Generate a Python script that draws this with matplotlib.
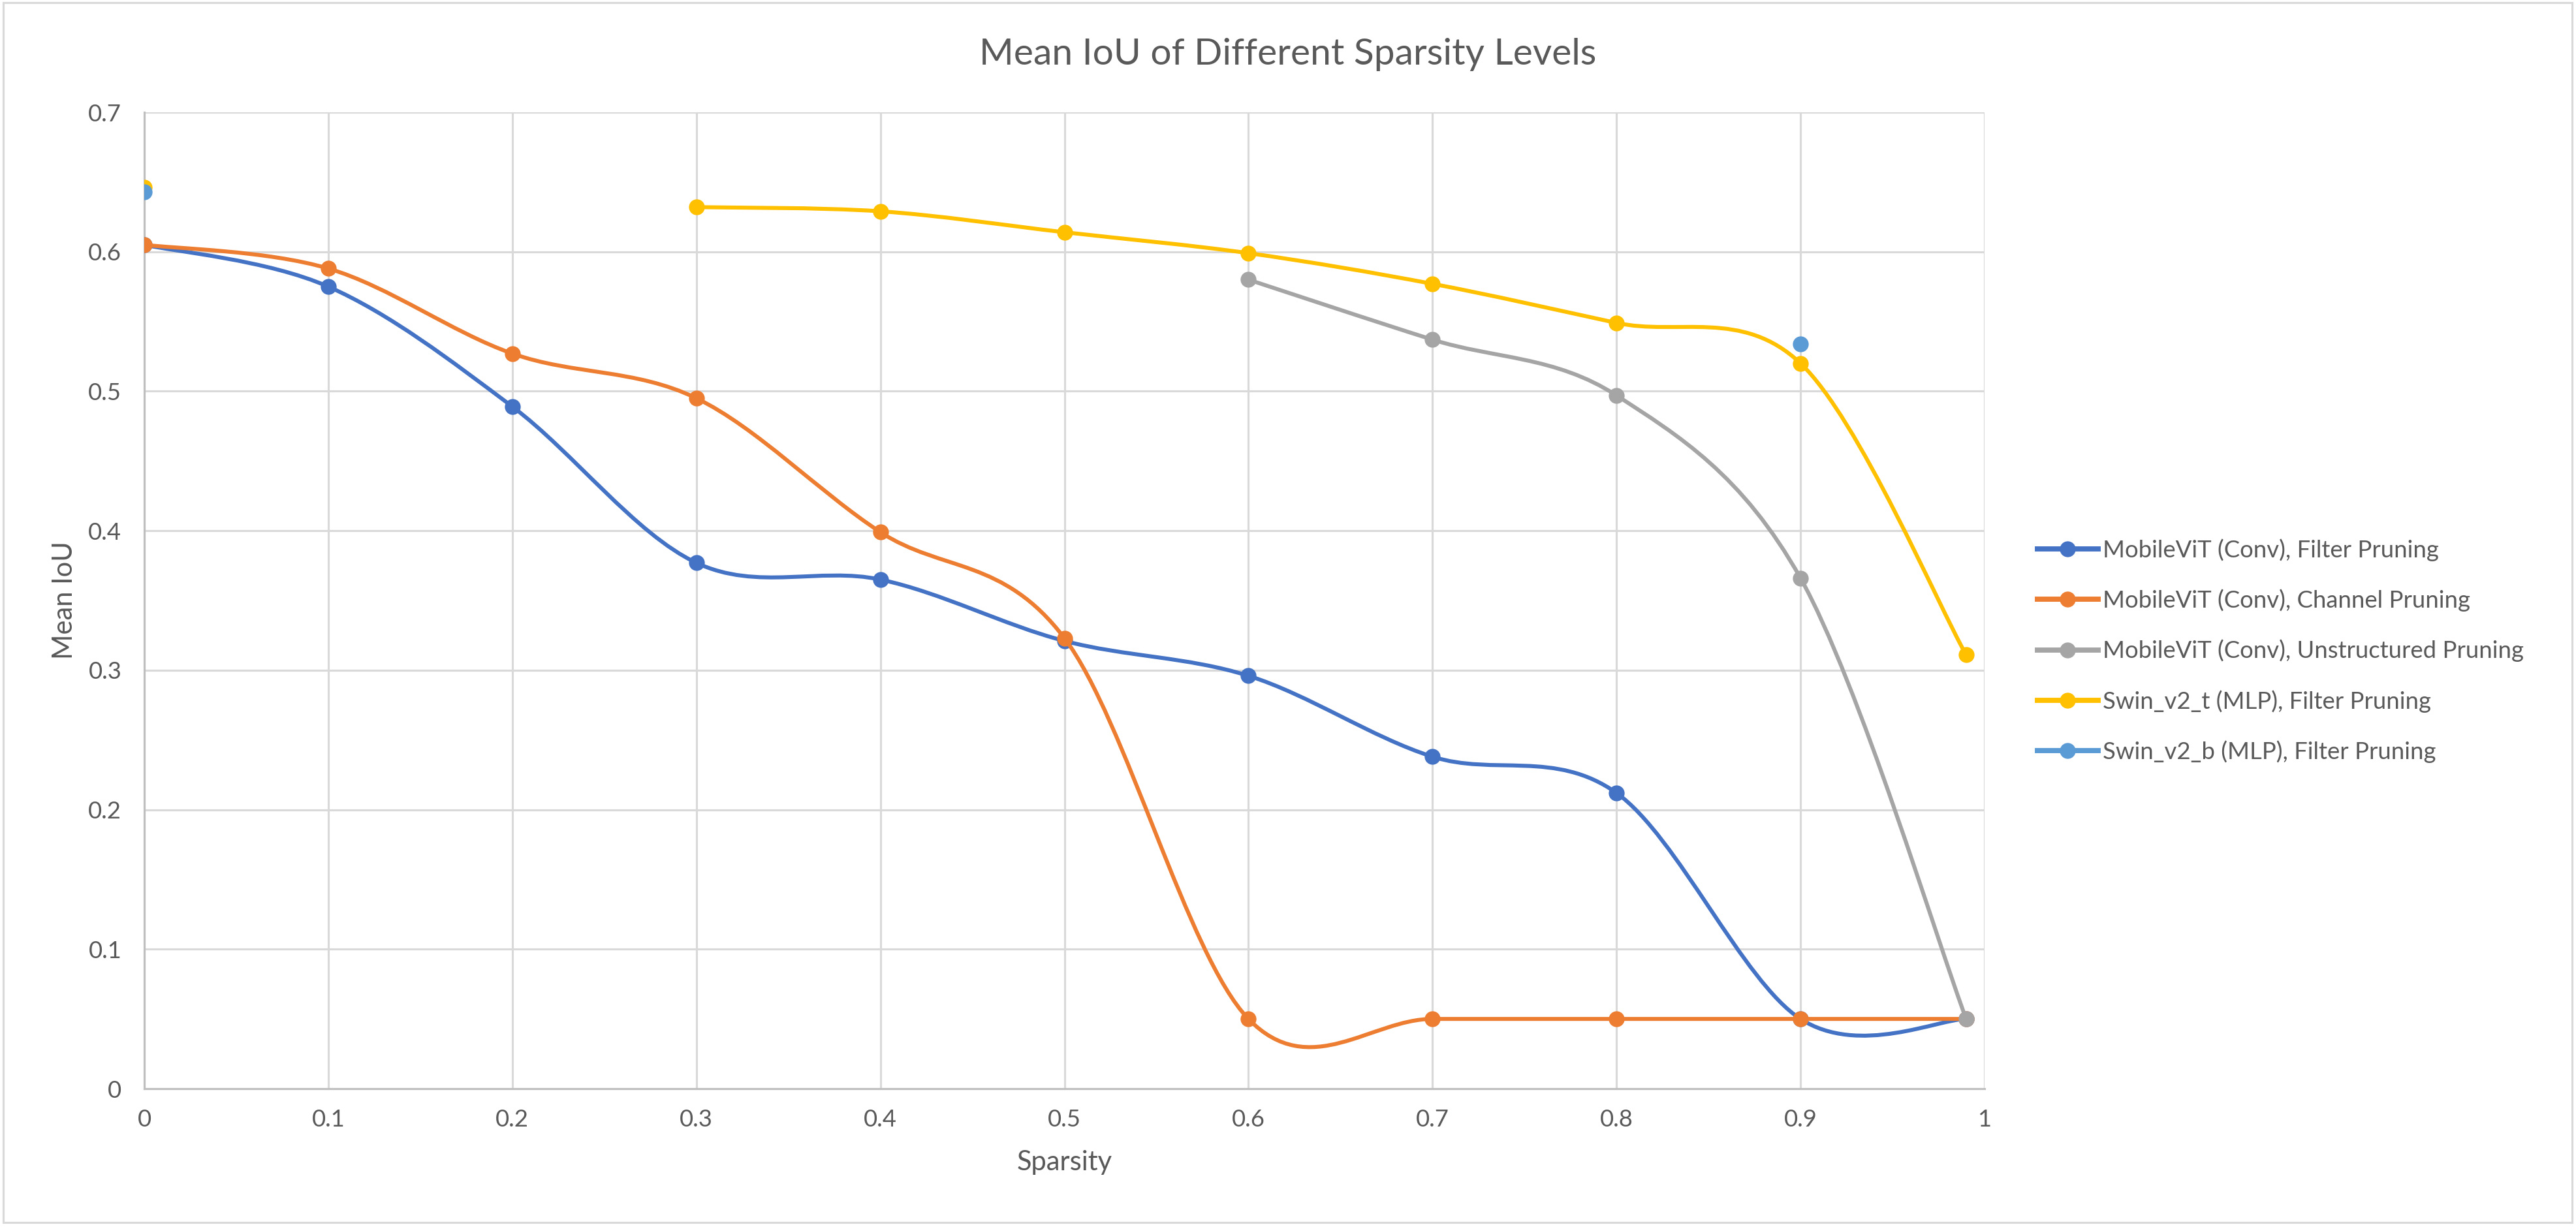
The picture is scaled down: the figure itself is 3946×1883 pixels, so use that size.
import numpy as np
import matplotlib
matplotlib.use('Agg')
import matplotlib.pyplot as plt
from matplotlib.path import Path
from matplotlib.patches import PathPatch, Rectangle
from matplotlib.lines import Line2D

# sparsity levels (x) and mean IoU per series; nan = no measurement
sparsity = [0, 0.1, 0.2, 0.3, 0.4, 0.5, 0.6, 0.7, 0.8, 0.9, 0.99]
mvit_filter = [0.605, 0.575, 0.489, 0.377, 0.365, 0.321, 0.296, 0.238, 0.212, 0.05, 0.05]
mvit_channel = [0.605, 0.588, 0.527, 0.495, 0.399, 0.323, 0.05, 0.05, 0.05, 0.05, 0.05]
mvit_unstructured = [np.nan] * 6 + [0.580, 0.537, 0.497, 0.366, 0.05]
swin_t_filter = [0.646, np.nan, np.nan, 0.632, 0.629, 0.614, 0.599, 0.577, 0.549, 0.520, 0.311]
swin_b_filter = [0.643] + [np.nan] * 8 + [0.534, np.nan]

series_names = [
    'MobileViT (Conv), Filter Pruning',
    'MobileViT (Conv), Channel Pruning',
    'MobileViT (Conv), Unstructured Pruning',
    'Swin_v2_t (MLP), Filter Pruning',
    'Swin_v2_b (MLP), Filter Pruning',
]
series_values = [mvit_filter, mvit_channel, mvit_unstructured, swin_t_filter, swin_b_filter]
series_colors = ['#4472C4', '#ED7D31', '#A5A5A5', '#FFC000', '#5B9BD5']

x_ticks = [0, 0.1, 0.2, 0.3, 0.4, 0.5, 0.6, 0.7, 0.8, 0.9, 1]
x_tick_labels = ['0', '0.1', '0.2', '0.3', '0.4', '0.5', '0.6', '0.7', '0.8', '0.9', '1']
y_ticks = [0, 0.1, 0.2, 0.3, 0.4, 0.5, 0.6, 0.7]
y_tick_labels = ['0', '0.1', '0.2', '0.3', '0.4', '0.5', '0.6', '0.7']

TEXT = '#595959'
GRID = '#D9D9D9'
plt.rcParams['font.family'] = ['Lato', 'DejaVu Sans']

W, H, DPI = 3946, 1883, 250


def runs(xs, ys):
    """split a series into runs of consecutive valid points"""
    out, cur = [], []
    for x, y in zip(xs, ys):
        if np.isnan(y):
            if cur:
                out.append(cur)
            cur = []
        else:
            cur.append((x, y))
    if cur:
        out.append(cur)
    return out


def smooth_path(pts):
    # excel-style smoothed line: catmull-rom as cubic beziers
    p = np.array(pts, dtype=float)
    n = len(p)
    verts = [p[0]]
    codes = [Path.MOVETO]
    for i in range(n - 1):
        prev = p[i - 1] if i > 0 else p[i]
        nxt = p[i + 2] if i + 2 < n else p[i + 1]
        c1 = p[i] + (p[i + 1] - prev) / 6.0
        c2 = p[i + 1] - (nxt - p[i]) / 6.0
        verts += [c1, c2, p[i + 1]]
        codes += [Path.CURVE4] * 3
    return Path(verts, codes)


fig = plt.figure(figsize=(W / DPI, H / DPI), dpi=DPI)
ax = fig.add_axes([221 / W, 1 - 1668 / H, (3040 - 221) / W, (1668 - 172) / H])

lw = 1.75
ms = 7
for vals, col in zip(series_values, series_colors):
    for seg in runs(sparsity, vals):
        if len(seg) > 1:
            ax.add_patch(PathPatch(smooth_path(seg), fill=False, edgecolor=col,
                                   lw=lw, capstyle='round', joinstyle='round', zorder=3))
        xs, ys = zip(*seg)
        ax.plot(xs, ys, linestyle='none', marker='o', ms=ms, color=col,
                markeredgewidth=0, zorder=3)

ax.set_xlim(0, 1)
ax.set_ylim(0, 0.7)
ax.set_xticks(x_ticks)
ax.set_xticklabels(x_tick_labels)
ax.set_yticks(y_ticks)
ax.set_yticklabels(y_tick_labels)
ax.tick_params(axis='x', length=0, labelsize=10.5, colors=TEXT, pad=9)
ax.tick_params(axis='y', length=0, labelsize=10.5, colors=TEXT, pad=10)
ax.grid(True, color=GRID, lw=0.9, zorder=0)
ax.set_axisbelow(True)
for side in ['top', 'right']:
    ax.spines[side].set_visible(False)
for side in ['left', 'bottom']:
    ax.spines[side].set_color('#BFBFBF')
    ax.spines[side].set_linewidth(0.9)

ax.set_xlabel('Sparsity', fontsize=12, color=TEXT)
ax.xaxis.set_label_coords(0.5, -(1762 - 1668) / 1496)
ax.set_ylabel('Mean IoU', fontsize=12, color=TEXT)
ax.yaxis.set_label_coords(-(221 - 118) / 2819, 0.5)

fig.text(1973 / W, 1 - 99 / H, 'Mean IoU of Different Sparsity Levels',
         ha='center', va='baseline', fontsize=16.4, color=TEXT)

handles = [Line2D([0], [0], color=c, lw=lw * 1.3, marker='o', ms=ms, markeredgewidth=0)
           for c in series_colors]
leg = fig.legend(handles, series_names, loc='center left',
                 bbox_to_anchor=(3106 / W, 1 - 997 / H), frameon=False,
                 fontsize=10.5, handlelength=2.55, handletextpad=0.2,
                 labelspacing=1.17, borderaxespad=0)
for t in leg.get_texts():
    t.set_color(TEXT)

# chart area frame
fig.add_artist(Rectangle((5 / W, 1 - 1873 / H), (3940 - 5) / W, (1873 - 4) / H,
                         transform=fig.transFigure, fill=False, edgecolor=GRID, lw=0.9))

fig.savefig('out.png', dpi=DPI)
